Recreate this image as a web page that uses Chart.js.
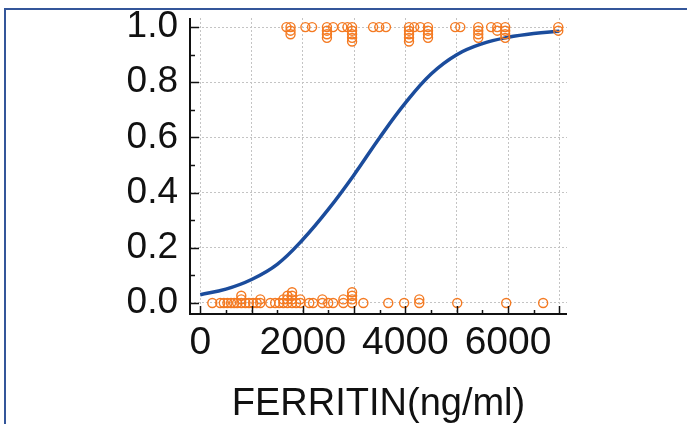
<!DOCTYPE html>
<html lang="en">
<head>
    <meta charset="UTF-8">
    <title>Ferritin logistic curve</title>
    <script src="https://cdn.jsdelivr.net/npm/chart.js@4.4.1/dist/chart.umd.min.js"></script>
    <style>
        html, body { margin: 0; padding: 0; background: #fff; }
        .wrap { position: relative; width: 687px; height: 424px; }
        .frame {
            position: absolute; left: 4px; top: 8px; right: 0; bottom: 0;
            border-top: 2px solid #34569a; border-left: 2px solid #34569a;
            pointer-events: none;
        }
    </style>
</head>
<body>

<div class="wrap">
    <canvas id="myChart" width="687" height="424"></canvas>
    <div class="frame"></div>
</div>

<script>
    // observed cases: ferritin value and how many share it
    var posX = [1680, 1760, 2050, 2180, 2470, 2590, 2770, 2870, 2960, 3370, 3490, 3620,
                4070, 4170, 4290, 4440, 4970, 5070, 5420, 5670, 5790, 5945, 6980];
    var posN = [1, 3, 1, 1, 4, 1, 1, 1, 5, 1, 1, 1,
                5, 1, 1, 4, 1, 1, 4, 1, 2, 4, 2];

    var negX = [235, 390, 460, 530, 600, 660, 720, 800, 880, 950, 1030, 1100, 1170,
                1365, 1460, 1540, 1620, 1700, 1790, 1870, 1950, 2125, 2200, 2380,
                2495, 2590, 2790, 2960, 3180, 3665, 3975, 4270, 5010, 5965, 6685];
    var negN = [1, 1, 1, 1, 1, 1, 1, 3, 1, 1, 1, 1, 2,
                1, 1, 1, 2, 3, 4, 1, 2, 1, 1, 2,
                1, 1, 2, 4, 1, 1, 1, 2, 1, 1, 1];

    // fitted probability curve
    var curveX = [0, 500, 1000, 1500, 2000, 2500, 3000, 3500, 4000, 4500, 5000, 5500, 6000, 6500, 7000];
    var curveP = [0.03, 0.05, 0.085, 0.14, 0.23, 0.34, 0.465, 0.6, 0.725, 0.83, 0.9, 0.94, 0.963, 0.977, 0.985];

    var xTicks = [0, 500, 1000, 1500, 2000, 2500, 3000, 3500, 4000, 4500, 5000, 5500, 6000, 6500, 7000];
    var xLabels = [0, 2000, 4000, 6000];
    var yTicks = [0, 0.1, 0.2, 0.3, 0.4, 0.5, 0.6, 0.7, 0.8, 0.9, 1.0];

    var STACK = 0.013; // vertical shift between repeated values

    var points = [];
    posX.forEach(function (x, i) {
        for (var k = 0; k < posN[i]; k++) points.push({ x: x, y: 1 - k * STACK });
    });
    negX.forEach(function (x, i) {
        for (var k = 0; k < negN[i]; k++) points.push({ x: x, y: 0 + k * STACK });
    });

    var curve = curveX.map(function (x, i) { return { x: x, y: curveP[i] }; });

    function isMajorY(v) { return Math.round(v * 10) % 2 === 0; }
    function isMajorX(v) { return v % 1000 === 0; }

    // axis lines and inward tick marks
    var axisPlugin = {
        id: 'axisPlugin',
        afterDraw: function (chart) {
            var ctx = chart.ctx, a = chart.chartArea;
            var xs = chart.scales.x, ys = chart.scales.y;
            ctx.save();
            ctx.strokeStyle = '#111';
            ctx.lineWidth = 2;
            ctx.beginPath();
            ctx.moveTo(a.left, a.top);
            ctx.lineTo(a.left, a.bottom);
            ctx.lineTo(a.right, a.bottom);
            ctx.stroke();

            ctx.lineWidth = 1.5;
            ctx.beginPath();
            yTicks.forEach(function (v) {
                var py = Math.round(ys.getPixelForValue(v)) + 0.5;
                ctx.moveTo(a.left, py);
                ctx.lineTo(a.left + (isMajorY(v) ? 9 : 5), py);
            });
            xTicks.forEach(function (v) {
                var px = Math.round(xs.getPixelForValue(v)) + 0.5;
                ctx.moveTo(px, a.bottom);
                ctx.lineTo(px, a.bottom - (isMajorX(v) ? 8 : 4));
            });
            ctx.stroke();
            ctx.restore();
        }
    };

    var gridColorX = function (c) { return c.tick && isMajorX(c.tick.value) ? '#c4c4c4' : 'rgba(0,0,0,0)'; };
    var gridColorY = function (c) { return c.tick && isMajorY(c.tick.value) ? '#c4c4c4' : 'rgba(0,0,0,0)'; };

    var ctx = document.getElementById('myChart').getContext('2d');
    new Chart(ctx, {
        type: 'scatter',
        data: {
            datasets: [
                {
                    data: points,
                    pointRadius: 4.5,
                    pointBorderWidth: 1.4,
                    borderColor: '#f47a22',
                    backgroundColor: 'rgba(0,0,0,0)',
                    pointBackgroundColor: 'rgba(0,0,0,0)',
                    pointBorderColor: '#f47a22',
                    clip: false
                },
                {
                    data: curve,
                    showLine: true,
                    pointRadius: 0,
                    borderColor: '#1b4c9c',
                    borderWidth: 3.5,
                    tension: 0.4
                }
            ]
        },
        options: {
            responsive: false,
            animation: false,
            devicePixelRatio: 1,
            layout: { padding: { left: 0, top: 18, right: 120, bottom: 0 } },
            plugins: { legend: { display: false }, tooltip: { enabled: false } },
            scales: {
                x: {
                    type: 'linear',
                    min: -200,
                    max: 7150,
                    afterBuildTicks: function (s) { s.ticks = xTicks.map(function (v) { return { value: v }; }); },
                    afterFit: function (s) { s.height = 110; s.paddingLeft = 0; s.paddingRight = 0; },
                    grid: { color: gridColorX, lineWidth: 1, drawTicks: false },
                    border: { display: false, dash: [2, 2] },
                    ticks: {
                        autoSkip: false,
                        maxRotation: 0,
                        padding: 6,
                        color: '#111',
                        font: { family: 'Liberation Sans, Arial, sans-serif', size: 39 },
                        callback: function (v) { return xLabels.indexOf(v) >= 0 ? String(v) : ''; }
                    },
                    title: {
                        display: true,
                        text: 'FERRITIN(ng/ml)',
                        color: '#111',
                        padding: { top: 0, bottom: 0 },
                        font: { family: 'Liberation Sans, Arial, sans-serif', size: 38, lineHeight: 1.0 }
                    }
                },
                y: {
                    type: 'linear',
                    min: -0.04,
                    max: 1.033,
                    afterBuildTicks: function (s) { s.ticks = yTicks.map(function (v) { return { value: v }; }); },
                    afterFit: function (s) { s.width = 190; s.paddingTop = 0; s.paddingBottom = 0; },
                    grid: { color: gridColorY, lineWidth: 1, drawTicks: false },
                    border: { display: false, dash: [2, 2] },
                    ticks: {
                        autoSkip: false,
                        padding: 12,
                        color: '#111',
                        font: { family: 'Liberation Sans, Arial, sans-serif', size: 37 },
                        callback: function (v) { return isMajorY(v) ? v.toFixed(1) : ''; }
                    }
                }
            }
        },
        plugins: [axisPlugin]
    });
</script>

</body>
</html>
